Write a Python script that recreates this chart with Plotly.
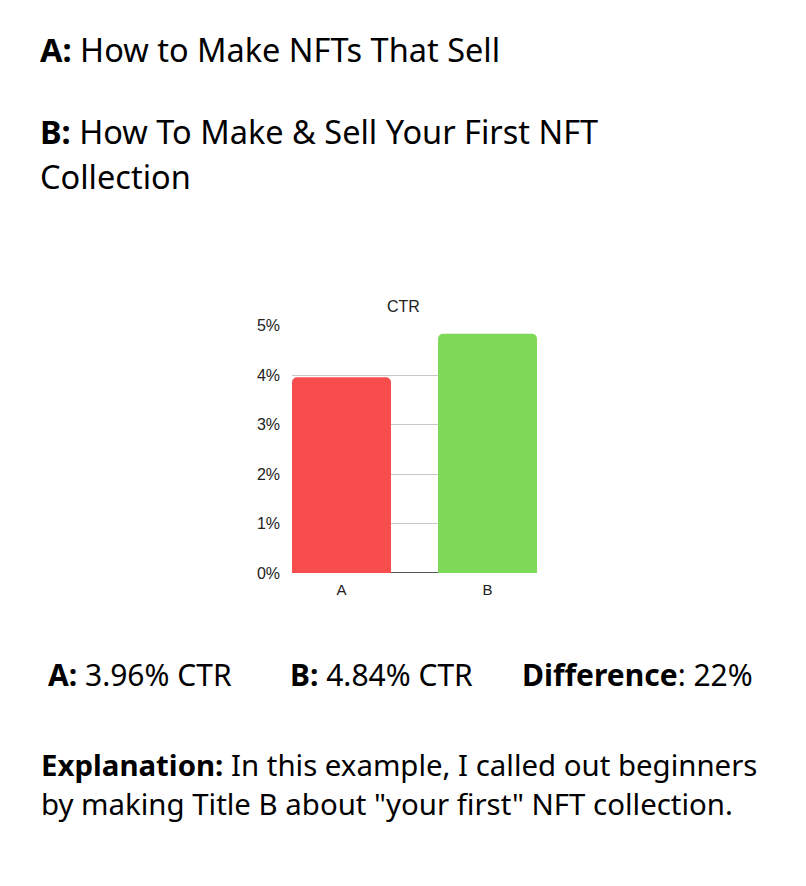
import plotly.graph_objects as go

categories = ["A", "B"]
ctr_values = [3.96, 4.84]
bar_colors = ["#F74D4D", "#7FD958"]
y_tick_values = [0, 1, 2, 3, 4, 5]
y_tick_labels = ["0%", "1%", "2%", "3%", "4%", "5%"]

W, H = 806, 886
TEXT_FONT = "Noto Sans"

fig = go.Figure()
fig.add_trace(go.Bar(
    x=[0, 1], y=ctr_values, width=0.678,
    marker=dict(color=bar_colors, cornerradius=5, line=dict(width=0)),
    hoverinfo="skip", showlegend=False,
))

def px_x(px):
    return px / W

def px_y(py):
    return 1 - py / H

fig.update_layout(
    width=W, height=H,
    margin=dict(l=0, r=0, t=0, b=0),
    paper_bgcolor="white", plot_bgcolor="white",
    font=dict(family="Liberation Sans, Arial, sans-serif", size=15, color="#222222"),
    xaxis=dict(
        domain=[px_x(292), px_x(537)],
        range=[-0.339, 1.339],
        tickmode="array", tickvals=[0, 1], ticktext=categories,
        showgrid=False, zeroline=False, showline=False, ticks="",
        tickfont=dict(size=15, color="#222222"),
        ticklabelstandoff=6,
    ),
    yaxis=dict(
        domain=[px_y(576), px_y(324)],
        range=[0, 5],
        tickmode="array", tickvals=y_tick_values, ticktext=y_tick_labels,
        showgrid=True, gridcolor="#c8c8c8", gridwidth=1,
        zeroline=True, zerolinecolor="#555555", zerolinewidth=1,
        showline=False, ticks="",
        tickfont=dict(size=16, color="#222222"),
        ticklabelstandoff=11,
    ),
)

def ann(text, glyph_left, cap_center, size, anchor="left"):
    x = glyph_left - 2 if anchor == "left" else glyph_left
    y = cap_center - 0.29 * size
    fig.add_annotation(
        text=text, x=px_x(x), y=px_y(y), xref="paper", yref="paper",
        xanchor=anchor, yanchor="middle", showarrow=False,
        font=dict(family=TEXT_FONT, size=size, color="#000000"),
    )

ann("<b>A:</b> How to Make NFTs That Sell", 40, 52, 32.5)
ann("<b>B:</b> How To Make &amp; Sell Your First NFT", 40, 135, 32.5)
ann("Collection", 40, 181, 32.5)
fig.add_annotation(
    text="CTR", x=px_x(403), y=px_y(309 - 0.29 * 16), xref="paper", yref="paper",
    xanchor="center", yanchor="middle", showarrow=False,
    font=dict(family="Liberation Sans, Arial, sans-serif", size=16, color="#222222"),
)
ann("<b>A:</b> 3.96% CTR", 48, 688, 30)
ann("<b>B:</b> 4.84% CTR", 290, 688, 30)
ann("<b>Difference</b>: 22%", 522, 688, 30)
ann("<b>Explanation:</b> In this example, I called out beginners", 41, 780, 29.4)
ann("by making Title B about \"your first\" NFT collection.", 41, 820, 29.4)

fig.write_html(
    "out.html",
    config={"displayModeBar": False},
    post_script="document.body.style.margin='0';document.body.style.overflow='hidden';",
)
